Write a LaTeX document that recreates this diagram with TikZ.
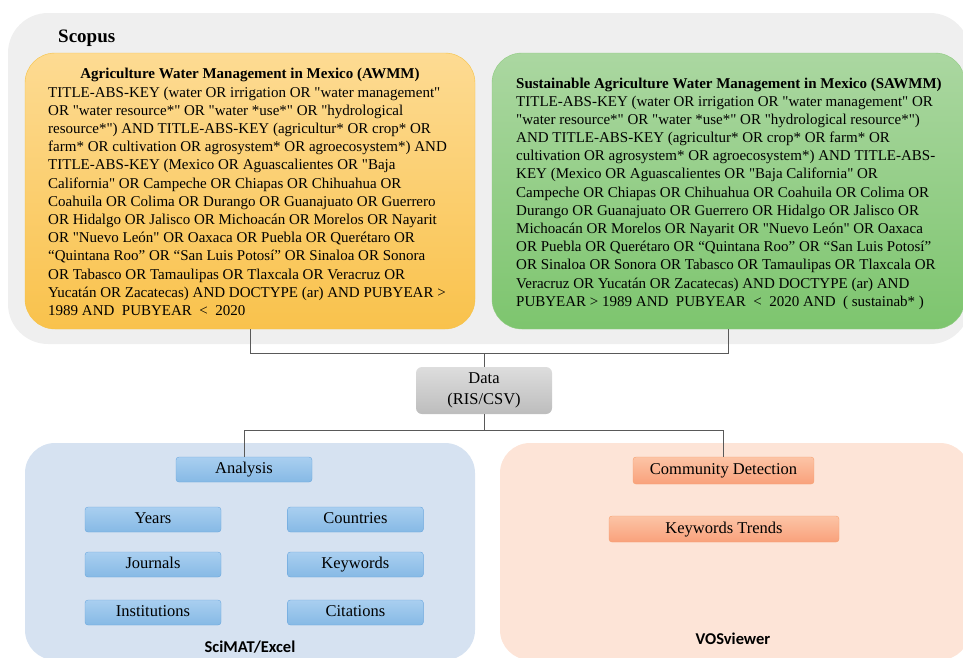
\documentclass[tikz,border=0pt]{standalone}
\usepackage{fontspec}
\setmainfont{Liberation Serif}[Ligatures=TeXOff]
\newfontfamily\calibri{Carlito}
\usetikzlibrary{positioning}
\definecolor{bggray}{HTML}{EFEFEF}
\definecolor{awmmtop}{HTML}{FDDB93}
\definecolor{awmmbot}{HTML}{F9C24C}
\definecolor{awmmline}{HTML}{F6C244}
\definecolor{sawtop}{HTML}{ABD7A1}
\definecolor{sawbot}{HTML}{7DC56E}
\definecolor{sawline}{HTML}{8FCB80}
\definecolor{scibg}{HTML}{D6E2F1}
\definecolor{vosbg}{HTML}{FDE4D7}
\definecolor{btntop}{HTML}{A9CFF0}
\definecolor{btnbot}{HTML}{86B9E5}
\definecolor{btnline}{HTML}{6BA7DE}
\definecolor{obtntop}{HTML}{FCC4A6}
\definecolor{obtnbot}{HTML}{F9A17B}
\definecolor{obtnline}{HTML}{F5A170}
\definecolor{datatop}{HTML}{DDDDDD}
\definecolor{databot}{HTML}{BDBDBD}
\definecolor{linkgray}{HTML}{595959}

\begin{document}
\begin{tikzpicture}[x=1pt, y=-1pt, node distance={20pt},
    query/.style = {align=left, inner sep=0pt, font=\fontsize{15}{18.2}\selectfont},
    btn/.style = {draw=btnline, rounded corners=3pt, top color=btntop, bottom color=btnbot,
                  minimum width=136pt, minimum height=25pt, inner sep=0pt,
                  text height=11.5pt, text depth=3.5pt, font=\fontsize{16.5}{18}\selectfont},
    obtn/.style = {draw=obtnline, rounded corners=3pt, top color=obtntop, bottom color=obtnbot,
                   minimum height=26pt, inner sep=0pt, text height=11.5pt, text depth=3.5pt,
                   font=\fontsize{16.5}{18}\selectfont},
    tool/.style = {font=\calibri\bfseries\fontsize{16.5}{18}\selectfont, anchor=base},
    link/.style = {draw=linkgray, line width=1pt}]
    \clip (0,0) rectangle (963,657);

    \node[fill=bggray, rounded corners=40pt, minimum width=962pt, minimum height=331pt] (scopus) at (489,178.5) {};
    \node[font=\bfseries\fontsize{19}{22}\selectfont, anchor=base west, inner sep=0pt] (scopuslbl) at (58,42) {Scopus};

    \node[draw=awmmline, top color=awmmtop, bottom color=awmmbot, rounded corners=30pt,
          minimum width=450pt, minimum height=276pt] (awmm) at (250,191) {};
    \node[font=\bfseries\fontsize{15}{18.2}\selectfont, anchor=base, inner sep=0pt] (awmmtitle) at (250,78)
        {Agriculture Water Management in Mexico (AWMM)};
    \node[query, anchor=north west] (awmmq) at (48,86.5) {%
        TITLE-ABS-KEY (water OR irrigation OR "water management"\\
        OR "water resource*" OR "water *use*" OR "hydrological\\
        resource*") AND TITLE-ABS-KEY (agricultur* OR crop* OR\\
        farm* OR cultivation OR agrosystem* OR agroecosystem*) AND\\
        TITLE-ABS-KEY (Mexico OR Aguascalientes OR "Baja\\
        California" OR Campeche OR Chiapas OR Chihuahua OR\\
        Coahuila OR Colima OR Durango OR Guanajuato OR Guerrero\\
        OR Hidalgo OR Jalisco OR Michoacán OR Morelos OR Nayarit\\
        OR "Nuevo León" OR Oaxaca OR Puebla OR Querétaro OR\\
        “Quintana Roo” OR “San Luis Potosí” OR Sinaloa OR Sonora\\
        OR Tabasco OR Tamaulipas OR Tlaxcala OR Veracruz OR\\
        Yucatán OR Zacatecas) AND DOCTYPE (ar) AND PUBYEAR >\\
        1989 AND\ \ PUBYEAR\ \ <\ \ 2020};

    \node[draw=sawline, top color=sawtop, bottom color=sawbot, rounded corners=30pt,
          minimum width=473pt, minimum height=276pt] (sawmm) at (728.5,191) {};
    \node[font=\bfseries\fontsize{15}{18.2}\selectfont, anchor=base west, inner sep=0pt] (sawmmtitle) at (516,88)
        {Sustainable Agriculture Water Management in Mexico (SAWMM)};
    \node[query, anchor=north west] (sawmmq) at (516,95.5) {%
        TITLE-ABS-KEY (water OR irrigation OR "water management" OR\\
        "water resource*" OR "water *use*" OR "hydrological resource*")\\
        AND TITLE-ABS-KEY (agricultur* OR crop* OR farm* OR\\
        cultivation OR agrosystem* OR agroecosystem*) AND TITLE-ABS-\\
        KEY (Mexico OR Aguascalientes OR "Baja California" OR\\
        Campeche OR Chiapas OR Chihuahua OR Coahuila OR Colima OR\\
        Durango OR Guanajuato OR Guerrero OR Hidalgo OR Jalisco OR\\
        Michoacán OR Morelos OR Nayarit OR "Nuevo León" OR Oaxaca\\
        OR Puebla OR Querétaro OR “Quintana Roo” OR “San Luis Potosí”\\
        OR Sinaloa OR Sonora OR Tabasco OR Tamaulipas OR Tlaxcala OR\\
        Veracruz OR Yucatán OR Zacatecas) AND DOCTYPE (ar) AND\\
        PUBYEAR > 1989 AND\ \ PUBYEAR\ \ <\ \ 2020 AND\ \ ( sustainab* )};

    \node[top color=datatop, bottom color=databot, rounded corners=6pt, minimum width=136pt,
          minimum height=47pt, align=center, font=\fontsize{16.5}{21}\selectfont] (data) at (484,390.5)
        {Data\\(RIS/CSV)};

    \node[fill=scibg, rounded corners=30pt, minimum width=450pt, minimum height=217pt] (scimat) at (250,551.5) {};
    \node[fill=vosbg, rounded corners=30pt, minimum width=470pt, minimum height=217pt] (vos) at (735,551.5) {};

    \node[btn] (analysis) at (244,469.5) {Analysis};
    \node[btn] (years) at (153,519.5) {Years};
    \node[btn] (countries) [right=66pt of years] {Countries};
    \node[btn] (journals) [below of=years, node distance=45pt] {Journals};
    \node[btn] (keywords) [right=66pt of journals] {Keywords};
    \node[btn] (institutions) [below of=journals, node distance=48pt] {Institutions};
    \node[btn] (citations) [right=66pt of institutions] {Citations};
    \node[tool] (scimatlbl) at (250,652) {SciMAT/Excel};

    \node[obtn, minimum width=181pt, minimum height=27pt] (community) at (723.5,470.5) {Community Detection};
    \node[obtn, minimum width=230pt] (trends) at (724,529) {Keywords Trends};
    \node[tool] (voslbl) at (733,644) {VOSviewer};

    \coordinate (join1) at (484,353);
    \coordinate (join2) at (484,430);
    \draw[link] (awmm.south) |- (join1) -| (sawmm.south);
    \draw[link] (join1) -- (data.north);
    \draw[link] (data.south) -- (join2);
    \draw[link] (analysis.north) |- (join2) -| (community.north);
\end{tikzpicture}
\end{document}
